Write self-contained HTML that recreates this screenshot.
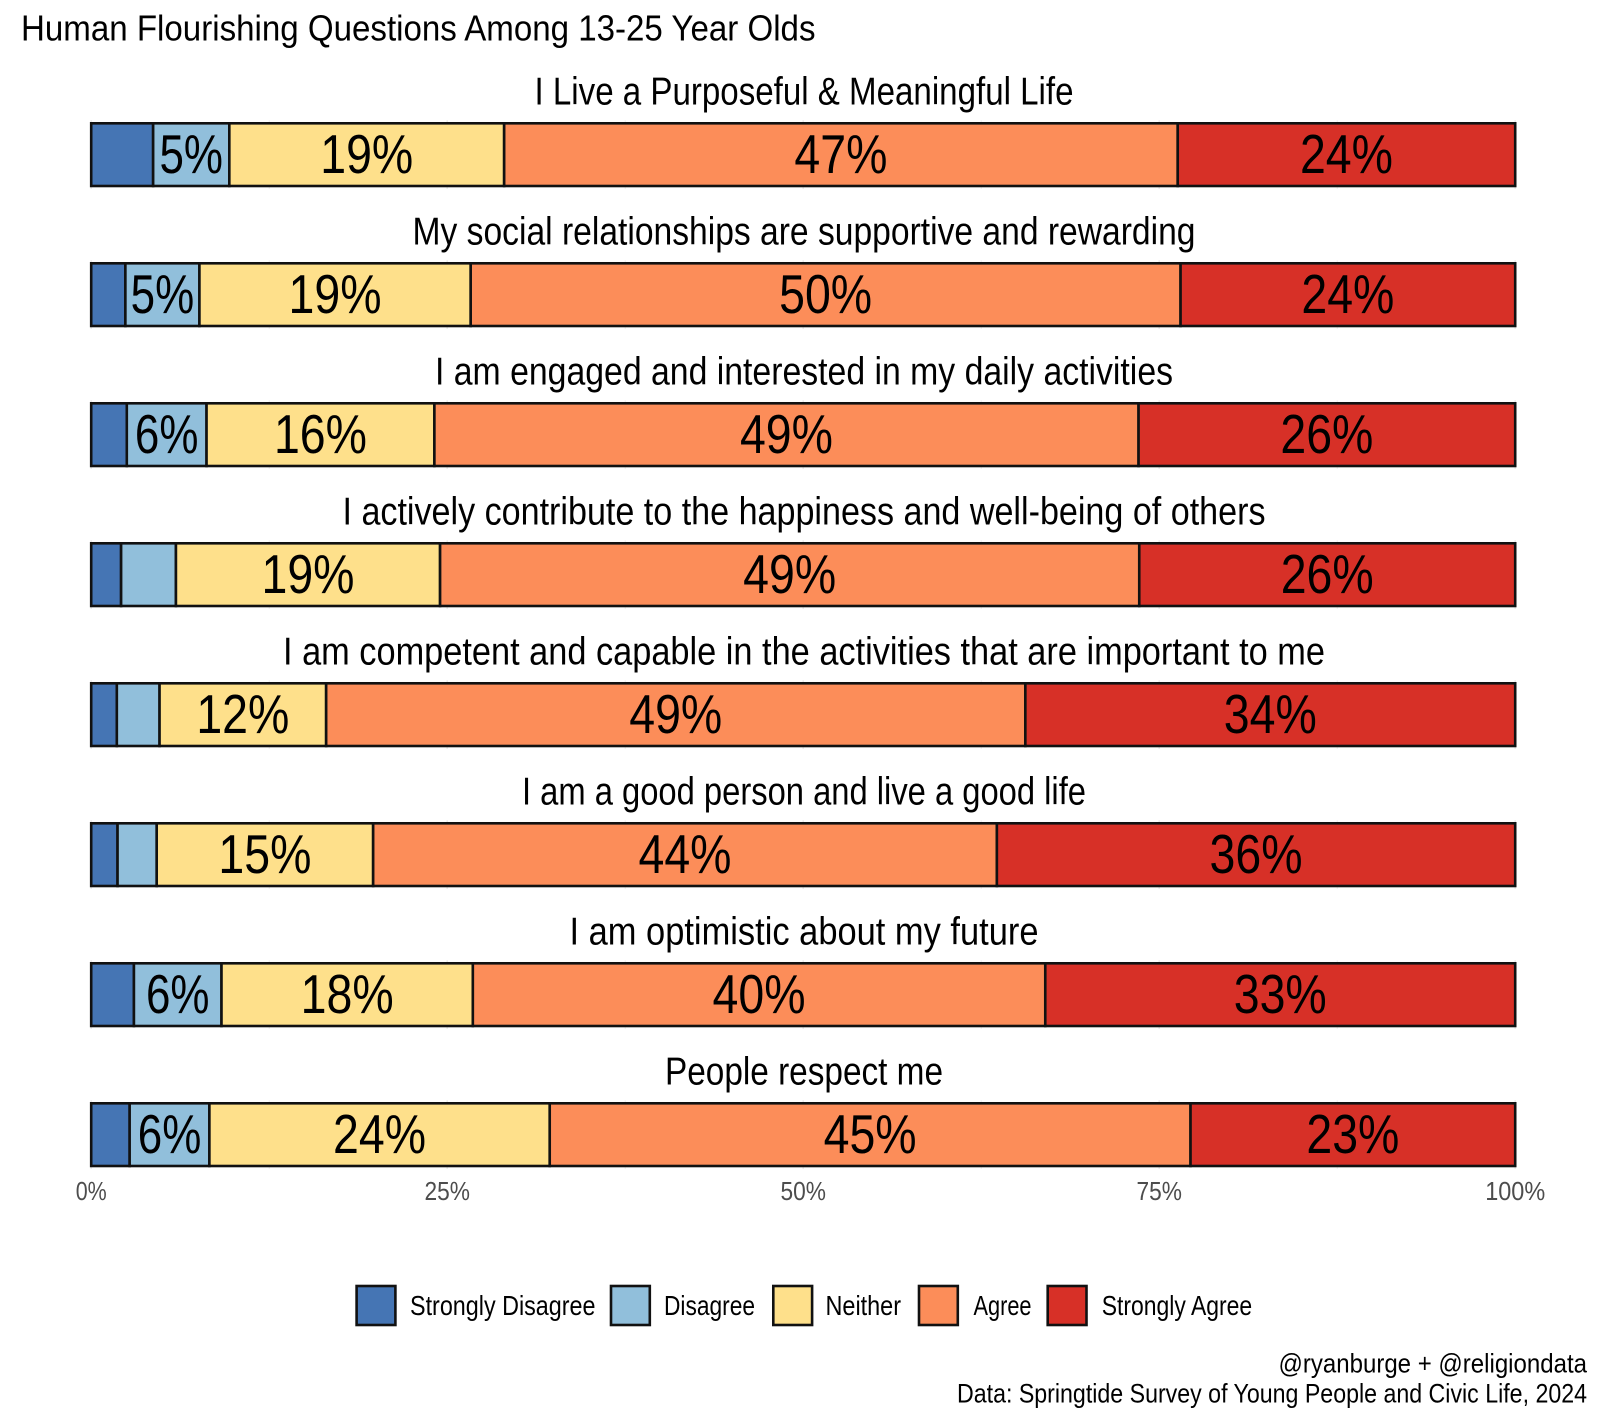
<!DOCTYPE html>
<html lang="en">
<head>
<meta charset="utf-8">
<title>Human Flourishing Questions Among 13-25 Year Olds</title>
<style>
html,body{margin:0;padding:0;background:#fff;}
svg{display:block;}
text{font-family:"Liberation Sans",sans-serif;fill:#000;}
</style>
</head>
<body>
<svg id="chart" xmlns="http://www.w3.org/2000/svg" width="1600" height="1422" viewBox="0 0 1600 1422">
  <rect x="0" y="0" width="1600" height="1422" fill="#ffffff"/>
  <text x="21" y="40.3" font-size="36.5" textLength="794.5" lengthAdjust="spacingAndGlyphs">Human Flourishing Questions Among 13-25 Year Olds</text>
  <g id="grid"></g>
  <g id="rows"></g>
  <g id="ticks"></g>
  <g id="legend"></g>
  <text x="1587" y="1372.5" font-size="26.5" text-anchor="end" textLength="308.5" lengthAdjust="spacingAndGlyphs">@ryanburge + @religiondata</text>
  <text x="1587" y="1402.5" font-size="26.5" text-anchor="end" textLength="630" lengthAdjust="spacingAndGlyphs">Data: Springtide Survey of Young People and Civic Life, 2024</text>
</svg>
<script>
// ---- data ----
const questions = [
  "I Live a Purposeful & Meaningful Life",
  "My social relationships are supportive and rewarding",
  "I am engaged and interested in my daily activities",
  "I actively contribute to the happiness and well-being of others",
  "I am competent and capable in the activities that are important to me",
  "I am a good person and live a good life",
  "I am optimistic about my future",
  "People respect me"
];
const responses = ["Strongly Disagree", "Disagree", "Neither", "Agree", "Strongly Agree"];
const stronglyDisagree = [4.35, 2.4, 2.5, 2.1, 1.8, 1.85, 3.0, 2.7];
const disagree         = [5.35, 5.2, 5.6, 3.85, 3.0, 2.75, 6.15, 5.6];
const neither          = [19.3, 19.05, 16.0, 18.55, 11.7, 15.2, 17.65, 23.9];
const agree            = [47.3, 49.85, 49.45, 49.1, 49.1, 43.8, 40.2, 45.0];
const stronglyAgree    = [23.7, 23.5, 26.45, 26.4, 34.4, 36.4, 33.0, 22.8];
const tickValues = [0, 25, 50, 75, 100];
const tickLabels = ["0%", "25%", "50%", "75%", "100%"];

// ---- layout & style (not data) ----
const seriesColors = ["#4575b4", "#91bfdb", "#fee08b", "#fc8d59", "#d73027"];
const facetTitleWidths = [539, 783, 738, 923, 1042, 564, 469, 278];
const legendKeyLefts = [355.6, 610, 772.3, 918, 1046.7];
const legendTextLefts = [410, 664, 825.5, 973.5, 1101.7];
const legendTextWidths = [185.5, 91, 75.5, 58, 150.5];
const tickLabelWidth = {2: 31, 3: 45.5, 4: 60};
const plotLeft = 91.2, plotRight = 1515.2;
const rowTop = 123.3, rowPitch = 140, barHeight = 62.7;
const SVGNS = "http://www.w3.org/2000/svg";

// ---- axis functions ----
function xScale(v) { return plotLeft + (plotRight - plotLeft) * v / 100; }
function yScale(i) { return rowTop + rowPitch * i; }

function make(tag, parent, attrs, text) {
  const el = document.createElementNS(SVGNS, tag);
  for (const k in attrs) el.setAttribute(k, attrs[k]);
  if (text !== undefined) el.textContent = text;
  parent.appendChild(el);
  return el;
}

const seriesValues = [stronglyDisagree, disagree, neither, agree, stronglyAgree];
const gridG = document.getElementById("grid");
const rowsG = document.getElementById("rows");
const ticksG = document.getElementById("ticks");
const legendG = document.getElementById("legend");

// faint grid stubs just outside each bar
questions.forEach(function (q, i) {
  for (let v = 0; v <= 100; v += 12.5) {
    const line = make("line", gridG, {
      x1: xScale(v), x2: xScale(v), y1: yScale(i) - 3, y2: yScale(i) + barHeight + 3,
      stroke: "#ebebeb", "stroke-width": v % 25 === 0 ? 1.4 : 0.8
    });
    
    
  }
});

// bars, labels, facet titles
questions.forEach(function (q, i) {
  const title = make("text", rowsG, {
    x: (plotLeft + plotRight) / 2 + 0.8, y: yScale(i) - 19, "font-size": 38.5, "text-anchor": "middle",
    textLength: facetTitleWidths[i], lengthAdjust: "spacingAndGlyphs"
  }, q);
  
  

  let cum = 0;
  seriesValues.forEach(function (series, s) {
    const v = series[i];
    const x0 = xScale(cum), x1 = xScale(cum + v);
    const seg = make("rect", rowsG, {
      x: x0, y: yScale(i), width: x1 - x0, height: barHeight,
      fill: seriesColors[s], stroke: "#111111", "stroke-width": 2.6
    });
    
    
    cum += v;
  });

  cum = 0;
  seriesValues.forEach(function (series, s) {
    const v = series[i];
    if (v >= 5) {
      const str = Math.round(v) + "%";
      const label = make("text", rowsG, {
        x: xScale(cum + v / 2), y: yScale(i) + 49.5, "font-size": 55, "text-anchor": "middle",
        textLength: str.length === 2 ? 63.5 : 93, lengthAdjust: "spacingAndGlyphs"
      }, str);
      
      
    }
    cum += v;
  });
});

// x axis labels
tickValues.forEach(function (t, i) {
  const lab = make("text", ticksG, {
    x: xScale(t), y: 1200, "font-size": 26, "text-anchor": "middle", style: "fill:#4d4d4d",
    textLength: tickLabelWidth[tickLabels[i].length], lengthAdjust: "spacingAndGlyphs"
  }, tickLabels[i]);
  
  
});

// legend
responses.forEach(function (r, i) {
  const key = make("rect", legendG, {
    x: legendKeyLefts[i] + 1, y: 1286, width: 38.8, height: 39,
    fill: seriesColors[i], stroke: "#111111", "stroke-width": 2.6
  });
  
  
  const txt = make("text", legendG, {
    x: legendTextLefts[i], y: 1315, "font-size": 28,
    textLength: legendTextWidths[i], lengthAdjust: "spacingAndGlyphs"
  }, r);
  
  
});
</script>
</body>
</html>
